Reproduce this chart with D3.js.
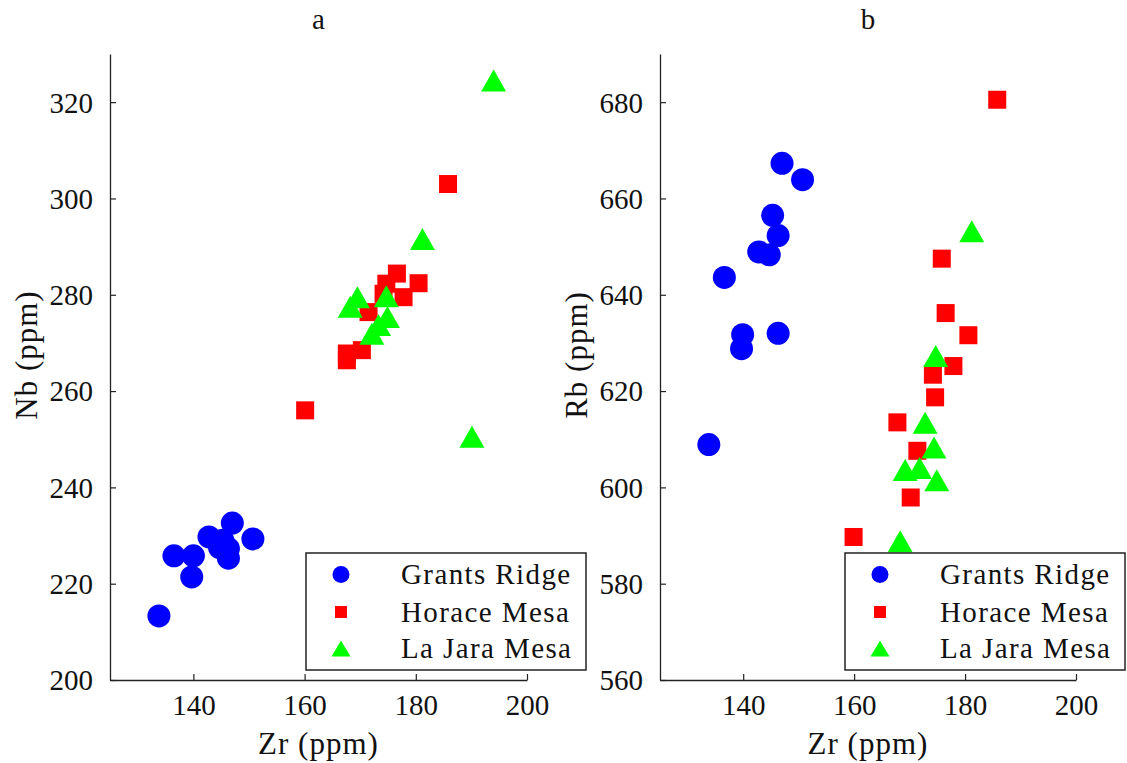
<!DOCTYPE html>
<html><head><meta charset="utf-8">
<script src="https://cdn.jsdelivr.net/npm/d3@7"></script>
<style>body{margin:0;background:#fff}svg{display:block}</style>
</head><body>
<script>
// ---- data ----
const groups = ["Grants Ridge", "Horace Mesa", "La Jara Mesa"];
const groupColors = ["#0000ff", "#ff0000", "#00ff00"];
const xTicks = [140, 160, 180, 200];
const aYTicks = [200, 220, 240, 260, 280, 300, 320];
const bYTicks = [560, 580, 600, 620, 640, 660, 680];

// panel a: Zr vs Nb
const aGrantsZr = [133.8, 136.5, 139.7, 140.0, 142.8, 144.7, 145.3, 146.3, 146.3, 147.0, 150.7];
const aGrantsNb = [213.3, 225.8, 221.4, 225.8, 229.7, 227.5, 229.0, 225.3, 227.3, 232.6, 229.3];
const aHoraceZr = [160.1, 167.6, 167.6, 170.3, 171.5, 174.2, 174.7, 176.6, 177.8, 180.5, 185.8];
const aHoraceNb = [256.0, 267.8, 266.4, 268.5, 276.4, 280.2, 282.3, 284.4, 279.5, 282.4, 303.0];
const aLaJaraZr = [168.2, 169.5, 172.1, 173.3, 174.7, 174.9, 181.2, 190.1, 194.0];
const aLaJaraNb = [277.5, 279.5, 271.9, 273.7, 279.7, 275.4, 291.6, 250.5, 324.5];

// panel b: Zr vs Rb
const bGrantsZr = [133.8, 136.6, 139.7, 139.9, 142.8, 144.7, 145.3, 146.3, 146.3, 147.0, 150.7];
const bGrantsRb = [608.9, 643.6, 628.8, 631.7, 648.9, 648.3, 656.5, 652.3, 632.0, 667.3, 663.9];
const bHoraceZr = [159.9, 167.8, 170.2, 171.4, 174.2, 174.6, 175.8, 176.5, 177.9, 180.6, 185.8];
const bHoraceRb = [589.7, 613.5, 597.9, 607.6, 623.4, 618.7, 647.5, 636.2, 625.2, 631.6, 680.5];
const bLaJaraZr = [168.3, 169.2, 171.8, 172.8, 174.4, 174.7, 174.9, 181.2];
const bLaJaraRb = [588.8, 603.6, 604.0, 613.4, 608.3, 627.3, 601.5, 653.2];

// ---- drawing ----
const W = 1127, H = 763;
const FONT = '"Liberation Serif", "DejaVu Serif", serif';
const svg = d3.select("body").append("svg").attr("width", W).attr("height", H)
  .style("font-family", FONT);

function marker(sel, kind, size) {
  if (kind === 0) return sel.append("circle").attr("r", size.r);
  if (kind === 1) return sel.append("rect").attr("x", -size.s/2).attr("y", -size.s/2).attr("width", size.s).attr("height", size.s);
  const w = size.tw, h = size.th;
  return sel.append("path").attr("d", `M0,${-h/2}L${w/2},${h/2}L${-w/2},${h/2}Z`);
}

function panel(cfg) {
  const x = d3.scaleLinear().domain([125, 200]).range([cfg.x0, cfg.x1]);
  const y = d3.scaleLinear().domain(cfg.yDomain).range([680, 54]);
  const g = svg.append("g");

  const xAxis = d3.axisBottom(x).tickValues(xTicks).tickSizeInner(-6).tickSizeOuter(0).tickPadding(14);
  const gx = g.append("g").attr("transform", "translate(0,680)").call(xAxis);
  const yAxis = d3.axisLeft(y).tickValues(cfg.yTicks).tickSizeInner(-6).tickSizeOuter(0).tickPadding(17);
  const gy = g.append("g").attr("transform", `translate(${cfg.x0},0)`).call(yAxis);
  [gx, gy].forEach(a => {
    a.attr("font-family", null).attr("font-size", 29);
    a.select(".domain").attr("stroke", "#222").attr("stroke-width", 1.3);
    a.selectAll(".tick line").attr("stroke", "#222").attr("stroke-width", 1.2);
    a.selectAll(".tick text").style("font-family", FONT).attr("font-size", 29).attr("fill", "#111");
  });
  gx.selectAll(".tick text").attr("dy", "0.71em");
  gy.selectAll(".tick text").attr("dy", "0.34em");

  g.append("text").attr("x", (cfg.x0 + cfg.x1)/2).attr("y", 754).attr("text-anchor", "middle")
    .style("font-family", FONT).attr("font-size", 31).attr("letter-spacing", 1).attr("fill", "#111").text("Zr (ppm)");
  g.append("text").attr("transform", `translate(${cfg.yLabelX},355) rotate(-90)`).attr("text-anchor", "middle")
    .style("font-family", FONT).attr("font-size", 31).attr("letter-spacing", 1).attr("fill", "#111").text(cfg.yLabel);
  g.append("text").attr("x", (cfg.x0 + cfg.x1)/2).attr("y", 29).attr("text-anchor", "middle")
    .style("font-family", FONT).attr("font-size", 29).attr("fill", "#111").text(cfg.title);

  const size = {r: 11.5, s: 18, tw: 25, th: 22};
  cfg.series.forEach((s, k) => {
    s.xs.forEach((v, i) => {
      const m = g.append("g").attr("transform", `translate(${x(v)},${y(s.ys[i])})`);
      marker(m, k, size).attr("fill", groupColors[k]);
    });
  });

  const L = g.append("g").attr("transform", `translate(${cfg.legX},553)`);
  L.append("rect").attr("x", 0).attr("y", 0).attr("width", 280).attr("height", 117)
    .attr("fill", "#fff").attr("stroke", "#222").attr("stroke-width", 1.5);
  const lsize = {r: 8.5, s: 12, tw: 19, th: 16};
  const rows = [21.5, 59, 95.5];
  groups.forEach((name, k) => {
    const m = L.append("g").attr("transform", `translate(35,${rows[k]})`);
    marker(m, k, lsize).attr("fill", groupColors[k]);
    L.append("text").attr("x", 95).attr("y", rows[k]).attr("dy", "0.34em")
      .style("font-family", FONT).attr("font-size", 29).attr("letter-spacing", 1.4).attr("fill", "#111").text(name);
  });
}

panel({
  x0: 110, x1: 527, yDomain: [200, 330], yTicks: aYTicks, yLabel: "Nb (ppm)", yLabelX: 37, title: "a", legX: 306,
  series: [{xs: aGrantsZr, ys: aGrantsNb}, {xs: aHoraceZr, ys: aHoraceNb}, {xs: aLaJaraZr, ys: aLaJaraNb}]
});
panel({
  x0: 660, x1: 1076, yDomain: [560, 690], yTicks: bYTicks, yLabel: "Rb (ppm)", yLabelX: 587, title: "b", legX: 845,
  series: [{xs: bGrantsZr, ys: bGrantsRb}, {xs: bHoraceZr, ys: bHoraceRb}, {xs: bLaJaraZr, ys: bLaJaraRb}]
});
</script>
</body></html>
